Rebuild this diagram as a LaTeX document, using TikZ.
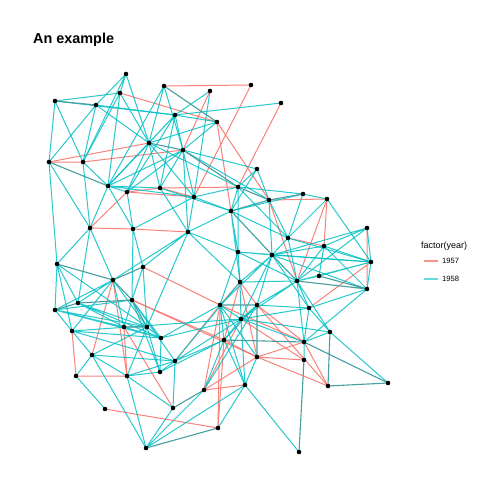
\documentclass[tikz,border=0pt]{standalone}
\usepackage{fontspec}
\setmainfont{Liberation Sans}
\definecolor{red57}{HTML}{F8766D}
\definecolor{teal58}{HTML}{00BFC4}
\definecolor{both}{RGB}{72,158,160}
\tikzset{
  e57/.style={red57, line width=1pt, opacity=0.9},
  e58/.style={teal58, line width=1pt, opacity=0.85},
  eboth/.style={both, line width=1.1pt},
}
\begin{document}
\begin{tikzpicture}[x=1pt,y=-1pt]
  \useasboundingbox (0,0) rectangle (504,504);

  % vertices
  \coordinate (n1) at (126,74);  \coordinate (n2) at (164,86);
  \coordinate (n3) at (210,91);  \coordinate (n4) at (120,93);
  \coordinate (n5) at (55,101);  \coordinate (n6) at (96,105);
  \coordinate (n7) at (175,115); \coordinate (n8) at (217,122);
  \coordinate (n9) at (251,85);  \coordinate (n10) at (281,103);
  \coordinate (n11) at (149,143); \coordinate (n12) at (183,150);
  \coordinate (n13) at (49,162); \coordinate (n14) at (83,162);
  \coordinate (n15) at (108,186); \coordinate (n16) at (127,192);
  \coordinate (n17) at (160,188); \coordinate (n18) at (194,197);
  \coordinate (n19) at (257,169); \coordinate (n20) at (238,187);
  \coordinate (n21) at (269,200); \coordinate (n22) at (303,194);
  \coordinate (n23) at (327,199); \coordinate (n24) at (231,211);
  \coordinate (n25) at (90,228); \coordinate (n26) at (133,229);
  \coordinate (n27) at (188,232); \coordinate (n28) at (288,238);
  \coordinate (n29) at (367,228); \coordinate (n30) at (324,246);
  \coordinate (n31) at (238,252); \coordinate (n32) at (272,255);
  \coordinate (n33) at (371,262); \coordinate (n34) at (319,276);
  \coordinate (n35) at (297,281); \coordinate (n36) at (367,289);
  \coordinate (n37) at (240,282); \coordinate (n38) at (220,305);
  \coordinate (n39) at (257,305); \coordinate (n40) at (309,308);
  \coordinate (n41) at (241,319); \coordinate (n42) at (330,332);
  \coordinate (n43) at (224,340); \coordinate (n44) at (304,342);
  \coordinate (n45) at (257,357); \coordinate (n46) at (304,360);
  \coordinate (n47) at (204,390); \coordinate (n48) at (245,385);
  \coordinate (n49) at (328,386); \coordinate (n50) at (388,383);
  \coordinate (n51) at (218,428); \coordinate (n52) at (299,452);
  \coordinate (n53) at (57,264); \coordinate (n54) at (143,267);
  \coordinate (n55) at (113,280); \coordinate (n56) at (78,303);
  \coordinate (n57) at (132,300); \coordinate (n58) at (55,310);
  \coordinate (n59) at (124,327); \coordinate (n60) at (147,327);
  \coordinate (n61) at (72,331); \coordinate (n62) at (161,338);
  \coordinate (n63) at (92,355); \coordinate (n64) at (175,361);
  \coordinate (n65) at (160,372); \coordinate (n66) at (127,376);
  \coordinate (n67) at (76,376); \coordinate (n68) at (173,408);
  \coordinate (n69) at (105,409); \coordinate (n70) at (146,448);

  % 1957 ties
  \draw[e57] (n2) -- (n9) (n3) -- (n12) (n4) -- (n8) (n8) -- (n24);
  \draw[e57] (n9) -- (n18) (n10) -- (n20) (n11) -- (n13) (n12) -- (n14);
  \draw[e57] (n13) -- (n14) (n16) -- (n17) (n16) -- (n18) (n17) -- (n18);
  \draw[e57] (n17) -- (n20) (n25) -- (n16) (n25) -- (n26) (n26) -- (n27);
  \draw[e57] (n21) -- (n23) (n21) -- (n24) (n23) -- (n30) (n8) -- (n21);
  \draw[e57] (n54) -- (n38) (n55) -- (n66) (n55) -- (n63) (n57) -- (n43);
  \draw[e57] (n57) -- (n45) (n59) -- (n66) (n59) -- (n68) (n61) -- (n67);
  \draw[e57] (n66) -- (n67) (n69) -- (n51) (n47) -- (n38) (n51) -- (n43);
  \draw[e57] (n64) -- (n38) (n47) -- (n41) (n21) -- (n35) (n23) -- (n35);
  \draw[e57] (n24) -- (n35) (n28) -- (n30) (n29) -- (n36) (n33) -- (n40);
  \draw[e57] (n37) -- (n38) (n37) -- (n45) (n38) -- (n44) (n39) -- (n44);
  \draw[e57] (n41) -- (n46) (n44) -- (n45) (n44) -- (n49) (n45) -- (n46);
  \draw[e57] (n45) -- (n47) (n48) -- (n47) (n49) -- (n45) (n51) -- (n38);
  \draw[e57] (n37) -- (n39) (n37) -- (n43) (n39) -- (n49) (n43) -- (n45);

  % 1958 ties
  \draw[e58] (n1) -- (n6) (n1) -- (n14) (n1) -- (n11) (n1) -- (n4);
  \draw[e58] (n2) -- (n11) (n2) -- (n12) (n2) -- (n15);
  \draw[e58] (n3) -- (n7) (n3) -- (n18);
  \draw[e58] (n4) -- (n5) (n4) -- (n14) (n4) -- (n15) (n4) -- (n11);
  \draw[e58] (n5) -- (n7) (n5) -- (n13) (n5) -- (n14);
  \draw[e58] (n6) -- (n7) (n6) -- (n13) (n6) -- (n11) (n6) -- (n14);
  \draw[e58] (n7) -- (n8) (n7) -- (n11) (n7) -- (n12) (n7) -- (n17) (n7) -- (n15) (n7) -- (n16);
  \draw[e58] (n8) -- (n11) (n8) -- (n12) (n10) -- (n7);
  \draw[e58] (n11) -- (n15) (n11) -- (n16) (n11) -- (n17) (n11) -- (n18) (n11) -- (n20);
  \draw[e58] (n12) -- (n15) (n12) -- (n17) (n12) -- (n18) (n12) -- (n21) (n12) -- (n27) (n12) -- (n16);
  \draw[e58] (n13) -- (n53) (n13) -- (n25) (n14) -- (n15) (n14) -- (n25);
  \draw[e58] (n15) -- (n16) (n15) -- (n17) (n15) -- (n25) (n15) -- (n26) (n15) -- (n18);
  \draw[e58] (n16) -- (n26) (n17) -- (n27) (n17) -- (n24);
  \draw[e58] (n18) -- (n24) (n18) -- (n27) (n18) -- (n20);
  \draw[e58] (n25) -- (n53) (n25) -- (n55) (n25) -- (n56);
  \draw[e58] (n26) -- (n54) (n26) -- (n57) (n26) -- (n18);
  \draw[e58] (n27) -- (n24) (n27) -- (n31) (n27) -- (n55) (n27) -- (n54) (n27) -- (n37) (n27) -- (n60);
  \draw[e58] (n53) -- (n58) (n53) -- (n56) (n53) -- (n61) (n53) -- (n60);
  \draw[e58] (n54) -- (n57) (n54) -- (n60);
  \draw[e58] (n55) -- (n56) (n55) -- (n58) (n55) -- (n59) (n55) -- (n60) (n55) -- (n61);
  \draw[e58] (n56) -- (n60) (n56) -- (n59) (n56) -- (n62);
  \draw[e58] (n57) -- (n58) (n57) -- (n59) (n57) -- (n65) (n57) -- (n64) (n57) -- (n62);
  \draw[e58] (n58) -- (n59) (n58) -- (n61) (n58) -- (n60) (n58) -- (n62) (n59) -- (n62);
  \draw[e58] (n60) -- (n62) (n60) -- (n65) (n60) -- (n66) (n60) -- (n63);
  \draw[e58] (n61) -- (n62) (n61) -- (n64) (n61) -- (n63) (n61) -- (n41);
  \draw[e58] (n62) -- (n65) (n62) -- (n41) (n62) -- (n38);
  \draw[e58] (n63) -- (n67) (n63) -- (n66) (n63) -- (n70) (n63) -- (n64);
  \draw[e58] (n64) -- (n65) (n64) -- (n66) (n64) -- (n68) (n64) -- (n43) (n64) -- (n37) (n64) -- (n41);
  \draw[e58] (n65) -- (n66) (n65) -- (n43) (n67) -- (n69);
  \draw[e58] (n68) -- (n66) (n68) -- (n70) (n70) -- (n47) (n70) -- (n66) (n70) -- (n48);
  \draw[e58] (n47) -- (n43) (n47) -- (n39) (n51) -- (n48);
  \draw[e58] (n19) -- (n20) (n19) -- (n24) (n19) -- (n21) (n19) -- (n12);
  \draw[e58] (n20) -- (n22) (n20) -- (n24) (n20) -- (n31) (n20) -- (n28);
  \draw[e58] (n21) -- (n28) (n21) -- (n24) (n21) -- (n32);
  \draw[e58] (n22) -- (n23) (n22) -- (n28) (n22) -- (n24);
  \draw[e58] (n23) -- (n28) (n23) -- (n33);
  \draw[e58] (n24) -- (n28) (n24) -- (n31) (n24) -- (n37) (n24) -- (n32);
  \draw[e58] (n28) -- (n32) (n28) -- (n35) (n28) -- (n33);
  \draw[e58] (n29) -- (n30) (n29) -- (n32) (n29) -- (n33) (n29) -- (n35);
  \draw[e58] (n30) -- (n32) (n30) -- (n33) (n30) -- (n34) (n30) -- (n35) (n30) -- (n36);
  \draw[e58] (n31) -- (n32) (n31) -- (n37) (n31) -- (n35) (n31) -- (n38) (n31) -- (n33);
  \draw[e58] (n32) -- (n33) (n32) -- (n35) (n32) -- (n36) (n32) -- (n37) (n32) -- (n38);
  \draw[e58] (n32) -- (n39) (n32) -- (n40) (n32) -- (n41);
  \draw[e58] (n33) -- (n34) (n33) -- (n35) (n33) -- (n36) (n34) -- (n35);
  \draw[e58] (n35) -- (n37) (n35) -- (n39) (n35) -- (n40) (n35) -- (n42) (n35) -- (n41) (n35) -- (n44);
  \draw[e58] (n36) -- (n40) (n36) -- (n44) (n37) -- (n41);
  \draw[e58] (n38) -- (n41) (n38) -- (n43) (n38) -- (n45) (n38) -- (n48);
  \draw[e58] (n39) -- (n41) (n39) -- (n40) (n39) -- (n43);
  \draw[e58] (n40) -- (n41) (n40) -- (n42) (n40) -- (n44);
  \draw[e58] (n41) -- (n42) (n41) -- (n43) (n41) -- (n44);
  \draw[e58] (n42) -- (n44) (n42) -- (n50) (n43) -- (n48) (n44) -- (n46);
  \draw[e58] (n45) -- (n48) (n48) -- (n52) (n48) -- (n41);

  % ties in both years
  \draw[eboth] (n2) -- (n8) (n5) -- (n6) (n11) -- (n12) (n12) -- (n20);
  \draw[eboth] (n13) -- (n15) (n20) -- (n21) (n21) -- (n22) (n53) -- (n55);
  \draw[eboth] (n54) -- (n55) (n55) -- (n57) (n56) -- (n58) (n56) -- (n57);
  \draw[eboth] (n57) -- (n60) (n59) -- (n60) (n68) -- (n47) (n70) -- (n51);
  \draw[eboth] (n34) -- (n36) (n35) -- (n36) (n38) -- (n39) (n39) -- (n45);
  \draw[eboth] (n42) -- (n49) (n43) -- (n44) (n44) -- (n50) (n46) -- (n52);
  \draw[eboth] (n49) -- (n50);

  % vertex dots
  \foreach \v in {1,...,70}
    \fill (n\v) circle (2.3pt);

  % title and legend
  \node[anchor=base west, inner sep=0pt, font=\fontsize{14.4}{17}\selectfont\bfseries]
    (title) at (33,43) {An example};
  \node[anchor=base west, inner sep=0pt, font=\fontsize{9}{11}\selectfont]
    (legtitle) at (421,248) {factor(year)};
  \coordinate (k57a) at (424,261); \coordinate (k57b) at (438,261);
  \coordinate (k58a) at (424,279); \coordinate (k58b) at (438,279);
  \draw[red57, line width=1.2pt, opacity=0.8] (k57a) -- (k57b);
  \draw[teal58, line width=1.4pt, opacity=0.6] (k58a) -- (k58b);
  \node[anchor=base west, inner sep=0pt, font=\fontsize{7.6}{9}\selectfont]
    (lab57) at (442,263.7) {1957};
  \node[anchor=base west, inner sep=0pt, font=\fontsize{7.6}{9}\selectfont]
    (lab58) at (442,281.7) {1958};
\end{tikzpicture}
\end{document}
